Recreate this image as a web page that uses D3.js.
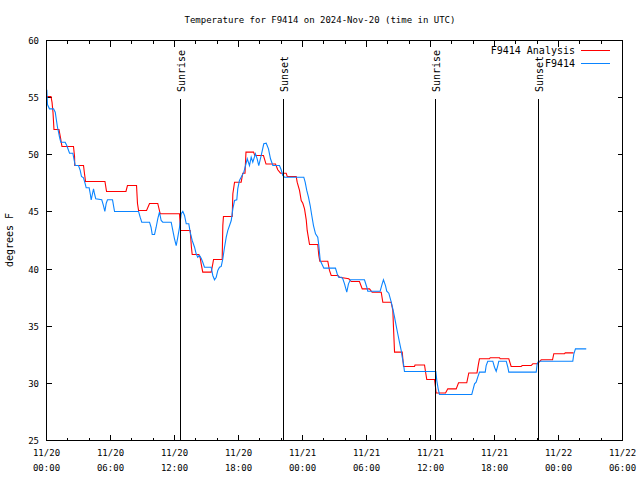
<!DOCTYPE html>
<html><head><meta charset="utf-8">
<script src="https://cdn.jsdelivr.net/npm/d3@7"></script>
<style>
body{margin:0;background:#fff}
text{font-family:"DejaVu Sans Mono","Liberation Mono",monospace;font-size:9px;fill:#000}
text.big{font-size:10px}
</style>
</head><body><svg id="c" width="640" height="480"></svg>
<script>
// ---- data (hours since 2024-11-20 00:00 UTC) ----
const titleText = "Temperature for F9414 on 2024-Nov-20 (time in UTC)";
const yLabel = "degrees F";
const seriesNames = ["F9414 Analysis", "F9414"];
const seriesColors = ["#ff0000", "#0a84ff"];
const yTicks = [25, 30, 35, 40, 45, 50, 55, 60];
const xTickHours = [0, 6, 12, 18, 24, 30, 36, 42, 48, 54];
const eventLabels = ["Sunrise", "Sunset", "Sunrise", "Sunset"];
const eventHours = [12.59, 22.25, 36.5, 46.15];
const eventTopTemp = 54.85;

const analysisHours = [0,0.42,0.52,0.61,0.70,1.17,1.31,1.45,2.53,2.63,2.65,3.47,3.56,3.66,5.48,5.63,7.45,7.59,8.44,8.53,8.63,9.38,9.66,10.43,10.66,12.47,12.56,13.47,13.59,13.66,14.28,14.41,14.50,14.65,15.44,15.59,15.66,16.47,16.53,16.59,17.41,17.47,17.63,18.25,18.40,18.47,18.61,18.70,19.41,19.53,20.34,20.58,21.47,21.68,21.94,22.47,22.57,23.41,23.50,23.72,23.88,24.03,24.19,24.35,24.44,24.66,25.43,25.53,25.62,26.37,26.53,26.69,27.31,27.47,28.34,28.57,29.34,29.60,30.28,30.53,31.38,31.53,32.31,32.47,32.53,32.63,33.35,33.47,34.50,34.55,35.44,35.53,35.65,36.38,36.47,36.53,37.41,37.62,38.41,38.63,39.40,39.59,40.36,40.50,40.59,41.53,41.60,42.47,42.53,43.34,43.56,44.50,44.60,45.44,45.59,46.03,46.38,47.44,47.56,48.56,48.63,49.41];
const analysisTemps = [55.1,55.1,54.58,53.7,52.21,52.21,51.51,50.73,50.73,49.85,49.06,49.06,48.36,47.66,47.66,46.79,46.79,47.31,47.31,45.74,45.13,45.13,45.74,45.74,44.84,44.84,43.38,43.38,41.86,41.28,41.28,40.99,40.46,39.73,39.73,40.46,40.84,40.84,43.81,44.6,44.6,46.59,47.6,47.6,48.39,48.39,48.39,50.23,50.23,49.94,49.94,49.19,49.19,48.69,48.39,48.39,48.1,48.1,47.6,46.88,46.0,45.76,45.27,44.31,43.38,42.15,42.15,41.19,40.69,40.69,39.88,39.44,39.44,39.29,39.15,38.91,38.91,38.27,38.27,37.97,37.97,37.1,37.1,36.38,34.91,32.73,32.73,31.48,31.48,31.61,31.61,31.04,30.34,30.34,29.66,29.16,29.16,29.52,29.52,30.05,30.05,30.91,30.91,31.71,32.15,32.15,32.24,32.24,32.15,32.15,31.48,31.48,31.56,31.56,31.71,31.71,32.06,32.06,32.59,32.59,32.67,32.67];

const obsHours = [0.03,0.09,0.28,0.66,0.82,0.91,1.03,1.13,1.22,1.34,1.75,1.90,2.16,2.47,2.60,2.69,3.0,3.16,3.28,3.47,3.63,3.72,4.0,4.10,4.19,4.31,4.41,4.5,4.62,5.18,5.34,5.47,5.6,5.72,6.19,6.38,8.63,8.78,8.93,9.66,9.80,9.91,10.13,10.28,10.43,10.59,10.75,10.90,11.69,11.84,12.0,12.16,12.31,12.47,12.63,12.78,12.94,13.1,13.34,13.47,13.66,13.88,14.03,14.18,14.34,14.50,14.65,14.81,15.44,15.59,15.75,15.91,16.06,16.22,16.38,16.53,16.69,16.85,17.0,17.16,17.32,17.47,17.63,17.84,17.93,18.09,18.25,18.5,18.66,18.82,19.03,19.19,19.34,19.59,19.75,19.9,20.13,20.37,20.6,20.81,21.0,21.22,21.84,22.0,22.15,22.31,24.12,24.25,24.4,24.56,24.72,24.87,25.03,25.22,25.43,25.53,25.66,25.85,26.0,27.09,27.25,27.38,27.66,27.78,27.94,28.15,28.31,28.5,29.81,30.03,30.12,31.28,31.47,31.59,31.78,31.9,32.09,32.32,32.47,32.63,32.78,32.93,33.09,33.25,33.35,33.47,33.56,36.5,36.59,36.72,36.84,39.87,39.97,40.13,40.28,40.43,40.59,41.13,41.22,41.37,41.84,42.0,42.16,42.31,42.4,43.1,43.25,43.34,45.91,46.0,46.13,49.34,49.44,49.59,50.6];
const obsTemps = [55.69,54.4,54.02,54.02,53.73,53.15,52.41,51.98,51.54,51.1,51.1,50.81,50.14,50.14,49.5,49.06,49.06,48.63,48.1,47.99,47.46,47.11,47.11,46.59,46.06,46.59,47.02,46.59,46.15,46.06,45.56,45.04,45.76,46.06,46.06,45.04,45.04,44.54,44.1,44.1,43.66,43.03,43.03,43.66,44.4,44.98,44.25,44.1,44.1,43.38,42.65,42.06,42.79,43.66,44.84,45.04,44.69,43.96,43.96,43.23,42.5,41.91,41.34,41.04,41.19,40.95,40.6,40.16,40.16,39.44,39.06,39.29,39.88,40.16,40.23,40.9,41.91,42.79,43.38,43.81,44.25,45.27,46.0,46.06,47.02,47.75,48.04,48.48,49.06,49.65,49.06,49.79,49.35,50.09,49.65,49.06,49.94,50.96,51.01,50.52,49.65,49.06,49.06,48.69,48.19,48.04,48.04,47.6,46.88,46.29,45.56,44.69,43.81,43.09,42.79,42.06,40.75,40.37,40.08,40.08,39.59,39.29,39.29,39.15,38.71,37.98,38.71,39.06,39.06,38.41,38.06,38.06,38.71,39.06,38.56,38.06,37.89,37.1,36.52,35.79,35.06,34.34,33.6,32.88,32.29,31.71,31.04,31.04,30.25,29.52,29.03,29.03,29.38,29.96,30.1,30.54,30.98,30.98,31.56,31.94,31.94,31.41,31.06,31.56,31.94,31.94,31.41,30.98,30.98,31.71,31.94,31.94,32.59,33.02,33.02];

// ---- chart ----
const start = Date.UTC(2024, 10, 20, 0);
const toDate = h => new Date(start + h * 3600e3);
const svg = d3.select("#c");
const L = 46.5, R = 622.5, T = 40.5, B = 440.5;
const x = d3.scaleUtc().domain([toDate(0), toDate(54)]).range([L, R]);
const y = d3.scaleLinear().domain([25, 60]).range([B, T]);

// title
svg.append("text").attr("x", 320).attr("y", 23).attr("text-anchor", "middle").text(titleText);
// y label
svg.append("text").attr("class", "big").attr("transform", "translate(13,240) rotate(-90)").attr("text-anchor", "middle").text(yLabel);

// ticks
const g = svg.append("g").attr("shape-rendering", "crispEdges").attr("stroke", "#000");
yTicks.forEach(v => {
  g.append("line").attr("x1", L).attr("x2", L + 5).attr("y1", y(v)).attr("y2", y(v));
  g.append("line").attr("x1", R).attr("x2", R - 5).attr("y1", y(v)).attr("y2", y(v));
  svg.append("text").attr("x", 39).attr("y", y(v) + 3.5).attr("text-anchor", "end").text(v);
});
const minorHours = d3.range(0, 55, 2).filter(h => h % 6 !== 0);
minorHours.forEach(h => {
  const px = Math.round(x(toDate(h)) - 0.5) + 0.5;
  g.append("line").attr("x1", px).attr("x2", px).attr("y1", B).attr("y2", B - 3);
  g.append("line").attr("x1", px).attr("x2", px).attr("y1", T).attr("y2", T + 3);
});
const fmtD = d3.utcFormat("%m/%d"), fmtT = d3.utcFormat("%H:%M");
xTickHours.forEach(h => {
  const d = toDate(h);
  const px = Math.round(x(d) - 0.5) + 0.5;
  g.append("line").attr("x1", px).attr("x2", px).attr("y1", B).attr("y2", B - 6);
  g.append("line").attr("x1", px).attr("x2", px).attr("y1", T).attr("y2", T + 6);
  svg.append("text").attr("x", x(d)).attr("y", 456).attr("text-anchor", "middle").text(fmtD(d));
  svg.append("text").attr("x", x(d)).attr("y", 471).attr("text-anchor", "middle").text(fmtT(d));
});

// data lines
const line = d3.line().x(d => x(d[0])).y(d => y(d[1]));
const red = analysisHours.map((h, i) => [toDate(h), analysisTemps[i]]);
const blue = obsHours.map((h, i) => [toDate(h), obsTemps[i]]);
[red, blue].forEach((s, i) => {
  svg.append("path").datum(s).attr("d", line).attr("fill", "none")
    .attr("stroke", seriesColors[i]).attr("stroke-width", 1.1).attr("stroke-linejoin", "miter");
});

// sunrise/sunset lines
eventHours.forEach((h, i) => {
  const px = Math.round(x(toDate(h)) - 0.5) + 0.5;
  svg.append("line").attr("x1", px).attr("x2", px).attr("y1", y(eventTopTemp)).attr("y2", B)
    .attr("stroke", "#000").attr("shape-rendering", "crispEdges");
  svg.append("text").attr("class", "big").attr("transform", `translate(${px + 4.5},92) rotate(-90)`)
    .attr("text-anchor", "start").text(eventLabels[i]);
});

// legend
seriesNames.forEach((n, i) => {
  const ly = 50.5 + i * 13;
  svg.append("text").attr("class", "big").attr("x", 575).attr("y", ly + 3.5).attr("text-anchor", "end").text(n);
  svg.append("line").attr("x1", 581).attr("x2", 610).attr("y1", ly).attr("y2", ly)
    .attr("stroke", seriesColors[i]).attr("shape-rendering", "crispEdges");
});

// frame
svg.append("rect").attr("x", L).attr("y", T).attr("width", R - L).attr("height", B - T)
  .attr("fill", "none").attr("stroke", "#000").attr("shape-rendering", "crispEdges");
</script></body></html>
